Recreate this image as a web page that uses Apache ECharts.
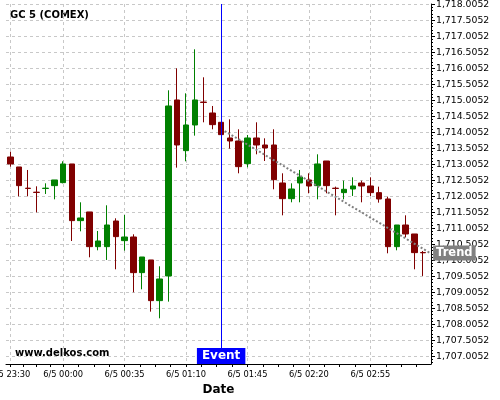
<!DOCTYPE html>
<html><head><meta charset="utf-8">
<script src="https://cdn.jsdelivr.net/npm/echarts@6/dist/echarts.min.js"></script>
<style>html,body{margin:0;padding:0;background:#fff}#c{width:500px;height:400px}</style>
</head><body><div id="c"></div>
<script>
// ---- data ----
const times = ['23:30','23:35','23:40','23:45','23:50','23:55','00:00','00:05','00:10','00:15','00:20','00:25',
  '00:30','00:35','00:40','00:45','00:50','00:55','01:00','01:05','01:10','01:15','01:20','01:25',
  '01:30','01:35','01:40','01:45','01:50','01:55','02:00','02:05','02:10','02:15','02:20','02:25',
  '02:30','02:35','02:40','02:45','02:50','02:55','03:00','03:05','03:10','03:15','03:20','03:25'];
const openV = [1713.234,1712.922,1712.260,1712.135,1712.250,1712.339,1712.432,1713.016,1711.245,1711.516,1710.432,1710.432,
  1711.234,1710.620,1710.734,1709.620,1710.016,1708.745,1709.516,1715.016,1713.432,1714.234,1714.950,1714.609,
  1714.318,1713.828,1713.734,1713.026,1713.828,1713.609,1713.609,1712.422,1711.932,1712.422,1712.516,1712.339,
  1713.109,1712.260,1712.120,1712.234,1712.422,1712.328,1712.120,1711.922,1710.432,1711.109,1710.828,1710.250];
const closeV = [1713.016,1712.339,1712.250,1712.125,1712.260,1712.516,1713.016,1711.245,1711.328,1710.432,1710.609,1711.109,
  1710.745,1710.734,1709.620,1710.109,1708.745,1709.422,1714.828,1713.609,1714.234,1715.016,1714.940,1714.245,
  1713.932,1713.734,1712.932,1713.828,1713.609,1713.516,1712.526,1711.932,1712.234,1712.609,1712.328,1713.016,
  1712.339,1712.250,1712.224,1712.328,1712.328,1712.120,1711.922,1710.432,1711.109,1710.828,1710.245,1710.240];
const lowV = [1712.932,1712.005,1712.005,1711.505,1712.078,1711.911,1712.411,1710.609,1710.911,1710.099,1710.318,1710.016,
  1709.724,1710.307,1709.005,1709.099,1708.401,1708.193,1708.714,1712.901,1713.099,1713.901,1714.318,1714.099,
  1713.932,1713.495,1712.724,1712.911,1713.318,1713.109,1712.224,1711.411,1711.818,1711.818,1712.099,1711.911,
  1712.099,1711.411,1711.911,1712.016,1711.818,1712.016,1711.807,1710.224,1710.318,1710.724,1709.724,1709.516];
const highV = [1713.401,1712.922,1712.828,1712.318,1712.411,1712.516,1713.099,1713.016,1711.818,1711.516,1710.922,1711.724,
  1711.318,1711.422,1710.818,1710.109,1710.016,1709.818,1715.318,1716.005,1715.224,1716.599,1715.724,1714.828,
  1714.318,1714.411,1714.099,1713.922,1714.318,1713.818,1714.099,1712.724,1712.411,1712.828,1712.724,1713.318,
  1713.109,1712.307,1712.495,1712.599,1712.495,1712.599,1712.307,1711.995,1711.109,1711.411,1710.828,1710.297];
const xTickTimes  = ['23:30','00:00','00:35','01:10','01:45','02:20','02:55'];
const xTickLabels = ['6/5 23:30','6/5 00:00','6/5 00:35','6/5 01:10','6/5 01:45','6/5 02:20','6/5 02:55'];
const yTicks = [1707.0052,1707.5052,1708.0052,1708.5052,1709.0052,1709.5052,1710.0052,1710.5052,1711.0052,1711.5052,
  1712.0052,1712.5052,1713.0052,1713.5052,1714.0052,1714.5052,1715.0052,1715.5052,1716.0052,1716.5052,1717.0052,1717.5052,1718.0052];
const eventTime = '01:30';
const eventLabel = 'Event';
const trendTimes = ['01:32','03:29'];
const trendValues = [1714.046, 1710.233];
const trendLabel = 'Trend';

// ---- helpers ----
const toMin = t => { const [h, m] = t.split(':').map(Number); let v = h * 60 + m - (23 * 60 + 30); if (v < 0) v += 1440; return v; };
const fmtPrice = v => { const s = v.toFixed(4); const p = s.split('.'); return p[0].replace(/\B(?=(\d{3})+(?!\d))/g, ',') + '.' + p[1]; };
const X_MIN = -2.5, X_MAX = 239.5, Y_MIN = 1706.765, Y_MAX = 1718.015;
const FONT = 'DejaVu Sans';

const xTickMin = xTickTimes.map(toMin);
const xMinor = [];
for (let k = 0; k < xTickMin.length; k++) {
  const a = xTickMin[k], b = k + 1 < xTickMin.length ? xTickMin[k + 1] : a + 35;
  for (let j = 0; j < 4; j++) { const v = a + (b - a) * j / 4; if (v <= X_MAX) xMinor.push(v); }
}
const yMinor = [];
for (let v = yTicks[0] - 0.2; v <= Y_MAX; v += 0.1) yMinor.push(+v.toFixed(4));

const candles = times.map((t, i) => [toMin(t), openV[i], closeV[i], lowV[i], highV[i]]);
const evX = toMin(eventTime);

const chart = echarts.init(document.getElementById('c'), null, { renderer: 'canvas' });
const grid = { left: 6, right: 69, top: 4, bottom: 36, containLabel: false, outerBoundsMode: 'none' };
const hiddenX = { type: 'value', min: X_MIN, max: X_MAX, position: 'bottom',
  axisLine: { show: false, onZero: false }, axisLabel: { show: false } };
chart.setOption({
  animation: false,
  backgroundColor: '#ffffff',
  grid: grid,
  xAxis: [{
    type: 'value', min: X_MIN, max: X_MAX,
    name: 'Date', nameLocation: 'middle', nameGap: 19,
    nameTextStyle: { fontFamily: FONT, fontWeight: 'bold', fontSize: 12, color: '#000' },
    axisLine: { show: true, onZero: false, lineStyle: { color: '#000', width: 1 } },
    axisTick: { show: true, length: 3, customValues: xTickMin, lineStyle: { color: '#000' } },
    axisLabel: { customValues: xTickMin, margin: 7, fontFamily: FONT, fontSize: 8.3, color: '#000', hideOverlap: false,
      formatter: v => { const k = xTickMin.indexOf(v); return k >= 0 ? xTickLabels[k] : ''; } },
    splitLine: { show: true, lineStyle: { color: '#c8c8c8', type: [3, 3], width: 1 } }
  }, Object.assign({}, hiddenX, {
    splitLine: { show: false },
    axisTick: { show: true, length: 3, customValues: xMinor, lineStyle: { color: '#000' } }
  }), Object.assign({}, hiddenX, {
    z: 10,
    axisTick: { show: false, customValues: [evX] },
    axisLabel: { show: true, inside: true, margin: 0, customValues: [evX], formatter: () => eventLabel, hideOverlap: false,
      backgroundColor: '#0000ff', color: '#ffffff', fontFamily: FONT, fontWeight: 'bold', fontSize: 12,
      lineHeight: 14, padding: [1, 5, 1, 5] },
    splitLine: { show: true, lineStyle: { color: '#0000ff', width: 1, type: 'solid' } }
  })],
  yAxis: [{
    type: 'value', position: 'right', min: Y_MIN, max: Y_MAX, scale: true,
    axisLine: { show: true, onZero: false, lineStyle: { color: '#000', width: 1 } },
    axisTick: { show: true, length: 4, customValues: yTicks, lineStyle: { color: '#000' } },
    axisLabel: { customValues: yTicks, margin: 5, fontFamily: FONT, fontSize: 9.3, color: '#000', formatter: fmtPrice },
    splitLine: { show: true, lineStyle: { color: '#c8c8c8', type: [3, 3], width: 1 } }
  }, {
    type: 'value', position: 'right', min: Y_MIN, max: Y_MAX, scale: true,
    axisLine: { show: false, onZero: false }, axisLabel: { show: false }, splitLine: { show: false },
    axisTick: { show: true, length: 2, customValues: yMinor, lineStyle: { color: '#000' } }
  }],
  graphic: [
    { type: 'text', left: 10, top: 10, style: { text: 'GC 5 (COMEX)', font: 'bold 10px "DejaVu Sans"', fill: '#000' } },
    { type: 'text', left: 15, top: 348, style: { text: 'www.delkos.com', font: 'bold 10px "DejaVu Sans"', fill: '#000' } }
  ],
  series: [{
    type: 'candlestick', xAxisIndex: 0, yAxisIndex: 0,
    data: candles, encode: { x: 0, y: [1, 2, 3, 4] },
    barWidth: 6,
    itemStyle: { color: '#008000', color0: '#800000', borderColor: '#008000', borderColor0: '#800000', borderWidth: 1 }
  }, {
    type: 'line', xAxisIndex: 0, yAxisIndex: 0, z: 3,
    data: trendTimes.map((t, i) => [toMin(t), trendValues[i]]),
    showSymbol: false, symbol: 'none',
    lineStyle: { color: '#808080', width: 2, type: [2, 2] },
    endLabel: { show: true, formatter: trendLabel, distance: 3, backgroundColor: '#808080', color: '#fff',
      fontFamily: FONT, fontWeight: 'bold', fontSize: 11.5, padding: [2, 3, 1, 3] }
  }]
});
</script></body></html>
